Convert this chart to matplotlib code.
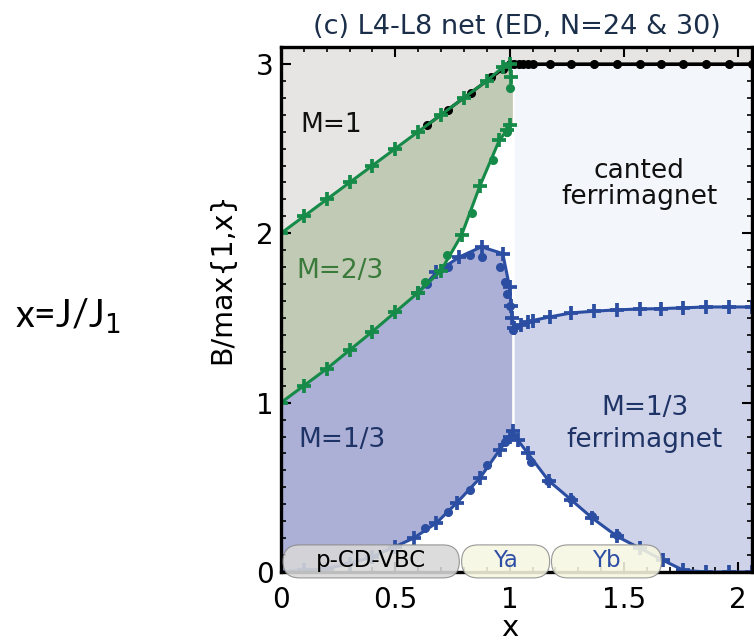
import numpy as np
import matplotlib
matplotlib.use("Agg")
import matplotlib.pyplot as plt
from matplotlib.patches import FancyBboxPatch
from matplotlib.ticker import MultipleLocator

# ---------------- data ----------------
# saturation boundary (M=1 / M=2/3), N=30 (+)
gu_x = [0.0, 0.1, 0.2, 0.3, 0.4, 0.5, 0.6, 0.7, 0.8, 0.9, 0.97, 1.0, 1.005]
gu_y = [2.0, 2.1, 2.2, 2.3, 2.4, 2.5, 2.6, 2.7, 2.8, 2.9, 2.98, 3.0, 2.92]
# black saturation points (N=24)
sat_x = [0.64, 0.73, 0.83, 0.92, 0.97, 1.0, 1.02, 1.04, 1.06, 1.08, 1.1, 1.175,
         1.27, 1.37, 1.47, 1.57, 1.66, 1.76, 1.86, 1.96, 2.06]
sat_y = [2.64, 2.73, 2.83, 2.92, 2.97, 3.0, 3.0, 3.0, 3.0, 3.0, 3.0, 3.0,
         3.0, 3.0, 3.0, 3.0, 3.0, 3.0, 3.0, 3.0, 3.0]
# lower boundary of M=2/3, N=30 (+)
gl_x = [0.0, 0.1, 0.2, 0.3, 0.4, 0.5, 0.6, 0.7, 0.79, 0.87, 0.955, 0.99, 1.0]
gl_y = [1.0, 1.1, 1.2, 1.31, 1.42, 1.535, 1.65, 1.78, 1.99, 2.28, 2.55, 2.61, 2.64]
# lower boundary of M=2/3, N=24 (dots)
gl24_x = [0.63, 0.725, 0.834, 0.926, 0.99, 1.0]
gl24_y = [1.71, 1.87, 2.12, 2.43, 2.60, 2.86]
# upper boundary of M=1/3, N=30 (+)
bu_x = [0.0, 0.1, 0.2, 0.3, 0.4, 0.5, 0.6, 0.68, 0.78, 0.877, 0.97, 1.0, 1.006,
        1.012, 1.02, 1.05, 1.08, 1.1, 1.175, 1.27, 1.37, 1.47, 1.57, 1.66,
        1.76, 1.86, 1.96, 2.06]
bu_y = [1.0, 1.1, 1.2, 1.31, 1.42, 1.535, 1.65, 1.77, 1.86, 1.92, 1.88, 1.68,
        1.57, 1.50, 1.44, 1.46, 1.475, 1.485, 1.506, 1.53, 1.54, 1.548, 1.553,
        1.555, 1.56, 1.565, 1.565, 1.565]
# upper boundary of M=1/3, N=24 (dots)
bu24_x = [0.64, 0.73, 0.826, 0.877, 0.956, 0.98, 0.99, 1.0, 1.015]
bu24_y = [1.70, 1.80, 1.87, 1.86, 1.80, 1.71, 1.64, 1.57, 1.43]
# lower boundary of M=1/3, N=30 (+)
bl_x = [0.0, 0.1, 0.2, 0.3, 0.4, 0.5, 0.58, 0.68, 0.77, 0.87, 0.956, 1.0,
        1.015, 1.035, 1.08, 1.17, 1.27, 1.36, 1.47, 1.57, 1.67, 1.76, 1.86,
        1.96, 2.06]
bl_y = [0.0, 0.01, 0.02, 0.05, 0.09, 0.15, 0.2, 0.29, 0.41, 0.555, 0.72, 0.80,
        0.83, 0.78, 0.70, 0.54, 0.425, 0.32, 0.21, 0.14, 0.07, 0.01, 0.0,
        0.0, 0.0]
# lower boundary of M=1/3, N=24 (dots)
bl24_x = [0.63, 0.73, 0.826, 0.90, 0.98, 1.095, 1.166, 1.27, 1.36, 1.47]
bl24_y = [0.26, 0.355, 0.485, 0.63, 0.77, 0.65, 0.54, 0.43, 0.33, 0.22]

x_split_left = 1.012
x_split_right = 1.02
x_max = 2.06
y_max = 3.1

capsules = [("p-CD-VBC", 0.009, 0.78), ("Ya", 0.79, 1.175), ("Yb", 1.183, 1.664)]
xtick_vals = [0, 0.5, 1, 1.5, 2]
xtick_labels = ["0", "0.5", "1", "1.5", "2"]
ytick_vals = [0, 1, 2, 3]
ytick_labels = ["0", "1", "2", "3"]

# ---------------- colours ----------------
c_gray = "#e6e5e3"
c_green_fill = "#c1cab4"
c_purple = "#acafd6"
c_lav = "#cfd3e9"
c_canted = "#f3f6fa"
c_green = "#168a48"
c_blue = "#2b4ea2"
c_navy = "#1f3466"

plt.rcParams['font.family'] = ['DejaVu Sans']

fig = plt.figure(figsize=(7.54, 6.42), dpi=100)
ax = fig.add_axes([281/754, 1-572/642, (752-281)/754, (572-47)/642])
ax.set_xlim(0, x_max)
ax.set_ylim(0, y_max)

# ---------------- fills ----------------
xl = np.linspace(0, x_split_left, 400)
xr = np.linspace(x_split_right, x_max, 400)
gu_i = np.interp(xl, gu_x, gu_y)
gl_i = np.interp(xl, gl_x, gl_y)
bu_l = np.interp(xl, bu_x, bu_y)
bl_l = np.interp(xl, bl_x, bl_y)
bu_r = np.interp(xr, bu_x, bu_y)
bl_r = np.interp(xr, bl_x, bl_y)

ax.fill_between(xl, gu_i, y_max, color=c_gray, lw=0, zorder=0)
ax.fill_between([x_split_left, x_max], 3.0, y_max, color=c_gray, lw=0, zorder=0)
ax.fill_between(xl, gl_i, gu_i, color=c_green_fill, lw=0, zorder=0)
ax.fill_between(xl, bl_l, bu_l, color=c_purple, lw=0, zorder=0)
ax.fill_between(xr, bu_r, 3.0, color=c_canted, lw=0, zorder=0)
ax.fill_between(xr, bl_r, bu_r, color=c_lav, lw=0, zorder=0)

# ---------------- lines ----------------
ax.plot(sat_x, sat_y, color="black", lw=2.2, marker="o", ms=5.5, zorder=3)
ax.plot([1.0, x_max], [3.0, 3.0], color="black", lw=2.2, zorder=3)

pk = dict(marker="+", ms=10.5, mew=2.7)
dk = dict(marker="o", ms=5.5, lw=0)
ax.plot(gu_x, gu_y, color=c_green, lw=2.2, zorder=4, **pk)
ax.plot(gl_x, gl_y, color=c_green, lw=2.2, zorder=4, **pk)
ax.plot(gl24_x, gl24_y, color=c_green, zorder=4, **dk)
ax.plot(bu_x[6:], bu_y[6:], color=c_blue, lw=2.2, zorder=3.5, **pk)
ax.plot(bu24_x, bu24_y, color=c_blue, zorder=3.5, **dk)
ax.plot(bl_x, bl_y, color=c_blue, lw=2.2, zorder=3.5, **pk)
ax.plot(bl24_x, bl24_y, color=c_blue, zorder=3.5, **dk)
ax.plot([x_split_left + 0.004] * 2, [0.83, 1.44], color="white", lw=1.2, zorder=1)

# ---------------- region labels ----------------
lab_fs = 19
ax.text(0.22, 2.64, "M=1", fontsize=lab_fs, color="#111111", ha="center", va="center", zorder=6)
ax.text(1.567, 2.29, "canted\nferrimagnet", fontsize=lab_fs, color="#111111",
        ha="center", va="center", linespacing=1.0, zorder=6)
ax.text(0.258, 1.78, "M=2/3", fontsize=lab_fs, color="#3a7a3a", ha="center", va="center", zorder=6)
ax.text(0.266, 0.78, "M=1/3", fontsize=lab_fs, color=c_navy, ha="center", va="center", zorder=6)
ax.text(1.59, 0.875, "M=1/3\nferrimagnet", fontsize=lab_fs, color=c_navy,
        ha="center", va="center", linespacing=1.3, zorder=6)

# ---------------- capsules ----------------
ratio = (229.0) / (169.3)
for lab, x0, x1 in capsules:
    y0, h = -0.035, 0.195
    fc = "#d8d8d8" if lab.startswith("p") else "#f7f7e2"
    p = FancyBboxPatch((x0, y0), x1 - x0, h,
                       boxstyle="round,pad=0,rounding_size=0.072",
                       mutation_aspect=ratio, fc=fc, ec="#8a8a8a", lw=0.8,
                       alpha=0.88, clip_on=False, zorder=7)
    ax.add_patch(p)
    tc = "black" if lab.startswith("p") else "#2e4fa5"
    ax.text((x0 + x1) / 2, y0 + h / 2 + 0.005, lab, fontsize=16.5, color=tc,
            ha="center", va="center", zorder=8, clip_on=False)

# ---------------- axes styling ----------------
for s in ax.spines.values():
    s.set_linewidth(2.4)
    s.set_zorder(5)
ax.xaxis.set_minor_locator(MultipleLocator(0.1))
ax.yaxis.set_minor_locator(MultipleLocator(0.1))
ax.tick_params(which="both", direction="in", top=True, right=True)
ax.tick_params(which="major", length=7, width=1.5, labelsize=20, pad=5)
ax.tick_params(axis="x", which="major", pad=10)
ax.tick_params(which="minor", length=3.5, width=1.2)
ax.set_xticks(xtick_vals)
ax.set_xticklabels(xtick_labels)
ax.set_yticks(ytick_vals)
ax.set_yticklabels(ytick_labels)
ax.set_title("(c) L4-L8 net (ED, N=24 & 30)", fontsize=19.5, color="#1c2f4a", pad=9)

fig.text(510/754, 1 - 628/642, "x", fontsize=21, ha="center", va="center")
fig.text(222/754, 1 - 278/642, "B/max{1,x}", fontsize=20.5, rotation=90,
         ha="center", va="center")
fig.text(15/754, 1 - 328/642, "x=J/J$_1$", fontsize=27, family=["Lato", "DejaVu Sans"],
         ha="left", va="baseline")

fig.savefig("out.png", dpi=100)
